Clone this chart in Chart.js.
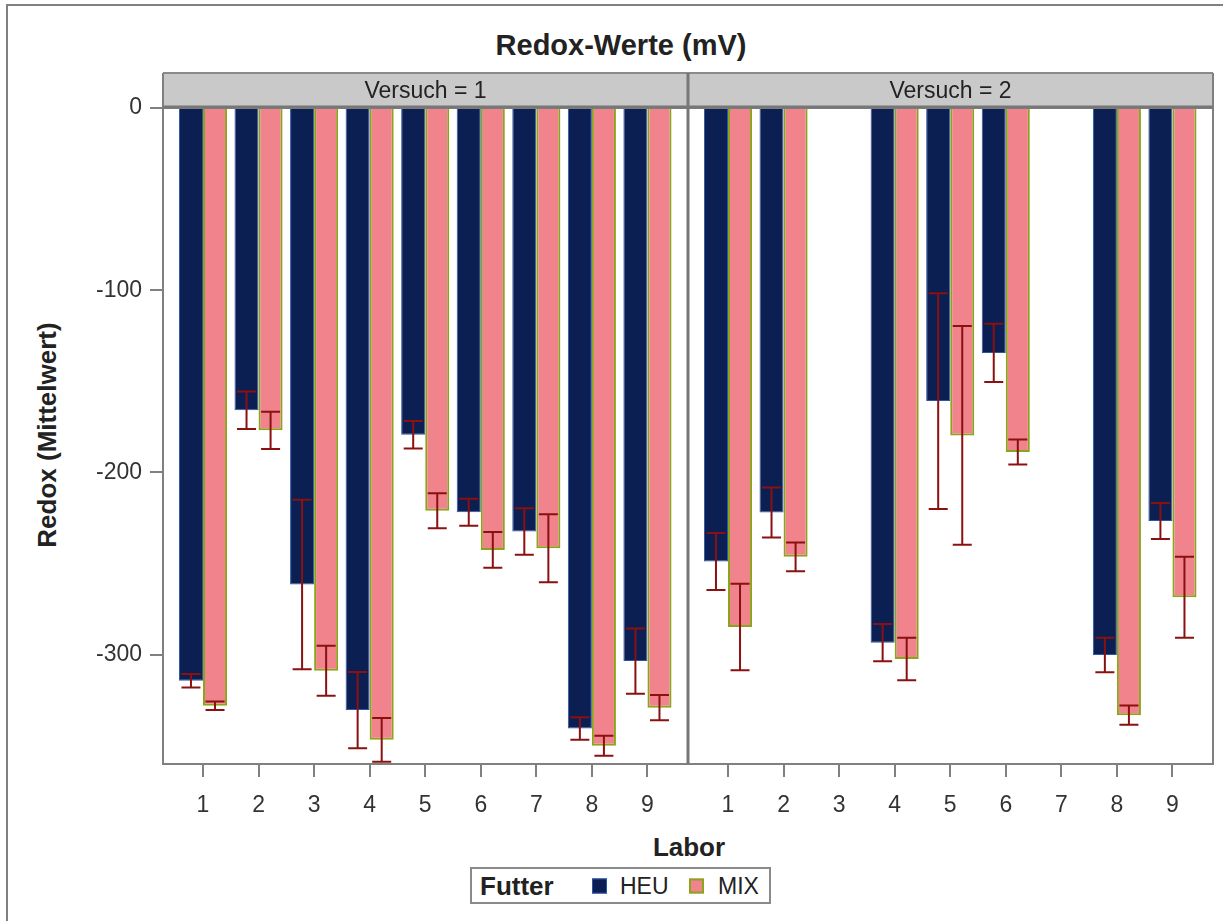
<!DOCTYPE html>
<html>
<head>
<meta charset="utf-8">
<title>Redox-Werte (mV)</title>
<script src="https://cdn.jsdelivr.net/npm/chart.js@4.4.1/dist/chart.umd.min.js"></script>
<style>
  body { margin: 0; background: #fff; }
  #wrap {
    position: relative; width: 1223px; height: 921px; overflow: hidden;
    background: #fff; font-family: "Liberation Sans", Arial, sans-serif; color: #222;
  }
  #wrap canvas { position: absolute; top: 0; }
  .edge { position: absolute; background: #808080; }
  .txt { position: absolute; white-space: nowrap; transform: translate(-50%, -50%); }
  .bold { font-weight: bold; }
  #legend {
    position: absolute; left: 470px; top: 867px; width: 297px; height: 33px;
    border: 2px solid #8a8a8a;
  }
  #legend span { position: absolute; top: 50%; transform: translateY(-50%); white-space: nowrap; }
  #legend .sw { width: 13px; height: 13px; }
</style>
</head>
<body>
<div id="wrap">
  <div class="edge" style="left:6px;top:4px;width:2px;height:930px"></div>
  <div class="edge" style="left:6px;top:4px;width:1230px;height:2px"></div>

  <div class="txt bold" style="left:621px;top:45px;font-size:29px">Redox-Werte (mV)</div>
  <div class="txt bold" style="left:47px;top:435px;font-size:26px;transform:translate(-50%,-50%) rotate(-90deg)">Redox (Mittelwert)</div>
  <div class="txt bold" style="left:689px;top:847px;font-size:26px">Labor</div>

  <canvas id="panel1" width="689" height="840" style="left:0"></canvas>
  <canvas id="panel2" width="535" height="840" style="left:688px"></canvas>

  <div id="legend">
    <span class="bold" style="left:8px;font-size:26px">Futter</span>
    <span class="sw" style="left:120px;background:#0b1f52;border:1px solid #2b55a5"></span>
    <span style="left:148px;font-size:23px">HEU</span>
    <span class="sw" style="left:217px;background:#f0838b;border:2px solid #8aa51a;width:11px;height:11px"></span>
    <span style="left:246px;font-size:23px">MIX</span>
  </div>
</div>

<script>
// Labor on the x axis, Versuch 1 and 2 as two panels
const labor = [1, 2, 3, 4, 5, 6, 7, 8, 9];
const yTicks = [0, -100, -200, -300];

// Versuch 1: mean redox (mV) and error half-width per Labor
const heu1    = [-314.3, -165.9, -261.5, -330.4, -179.3, -221.8, -232.4, -340.5, -303.5];
const heuErr1 = [3.7, 10.3, 46.5, 20.9, 7.6, 7.4, 12.8, 6.2, 17.9];
const mix1    = [-328.0, -176.9, -308.8, -346.7, -221.0, -242.5, -241.6, -350.0, -329.1];
const mixErr1 = [2.3, 10.2, 13.7, 12.0, 9.6, 9.8, 18.6, 5.5, 6.9];

// Versuch 2: Labor 3 and 7 have no measurements
const heu2    = [-248.9, -222.0, null, -293.4, -160.8, -134.4, null, -300.2, -226.6];
const heuErr2 = [15.6, 13.7, null, 10.2, 59.2, 16.0, null, 9.5, 9.9];
const mix2    = [-284.8, -246.3, null, -302.4, -179.7, -188.8, null, -333.2, -268.5];
const mixErr2 = [23.7, 7.9, null, 11.7, 60.0, 6.9, null, 5.3, 22.2];

const Y_MIN = -360, Y_MAX = 0;
const X_MIN = 0.28, X_MAX = 9.73;

const FONT = '"Liberation Sans", Arial, sans-serif';
const AXIS_GRAY = '#808080';
const ERR_COLOR = '#8b1111';
const HEU_FILL = '#0b1f52', HEU_EDGE = '#2b55a5';
const MIX_FILL = '#f0838b', MIX_EDGE = '#8aa51a';

function points(values) {
  return labor.map((l, i) => ({ x: l, y: values[i] }));
}

// error whiskers with caps, centred on each bar
const errorBars = {
  id: 'errorBars',
  afterDatasetsDraw(chart) {
    const { ctx } = chart;
    const y = chart.scales.y;
    ctx.save();
    ctx.strokeStyle = ERR_COLOR;
    chart.data.datasets.forEach((ds, di) => {
      const meta = chart.getDatasetMeta(di);
      meta.data.forEach((bar, i) => {
        const v = ds.data[i].y, e = ds.errors[i];
        if (v == null || e == null) return;
        const top = y.getPixelForValue(v + e);
        const bot = y.getPixelForValue(v - e);
        ctx.lineWidth = 2;
        ctx.beginPath();
        ctx.moveTo(bar.x, top); ctx.lineTo(bar.x, bot);
        ctx.moveTo(bar.x - 9.5, top); ctx.lineTo(bar.x + 9.5, top);
        ctx.moveTo(bar.x - 9.5, bot); ctx.lineTo(bar.x + 9.5, bot);
        ctx.stroke();
      });
    });
    ctx.restore();
  }
};

// gray header strip and panel frame
const panelStrip = {
  id: 'panelStrip',
  afterDraw(chart, args, opts) {
    const { ctx, chartArea: a } = chart;
    const h = 35;
    ctx.save();
    ctx.fillStyle = '#c9c9c9';
    ctx.fillRect(a.left, a.top - h, a.right - a.left, h);
    ctx.strokeStyle = '#8a8a8a';
    ctx.lineWidth = 2;
    ctx.beginPath();
    ctx.moveTo(a.left, a.top - h); ctx.lineTo(a.right, a.top - h);
    ctx.stroke();
    ctx.strokeStyle = AXIS_GRAY;
    ctx.strokeRect(a.left, a.top, a.right - a.left, a.bottom - a.top);
    ctx.beginPath();
    ctx.moveTo(a.left, a.top - h); ctx.lineTo(a.left, a.bottom);
    ctx.moveTo(a.right, a.top - h); ctx.lineTo(a.right, a.bottom);
    ctx.stroke();
    ctx.strokeStyle = '#777';
    ctx.lineWidth = 3;
    ctx.beginPath();
    ctx.moveTo(a.left, a.top - 1); ctx.lineTo(a.right, a.top - 1);
    ctx.moveTo(opts.sep, a.top - h); ctx.lineTo(opts.sep, a.bottom);
    ctx.stroke();
    ctx.fillStyle = '#222';
    ctx.font = '23px ' + FONT;
    ctx.textAlign = 'center';
    ctx.textBaseline = 'middle';
    ctx.fillText(opts.text, (a.left + a.right) / 2, a.top - h / 2 + 1);
    ctx.restore();
  }
};

function buildPanel(canvasId, heu, heuErr, mix, mixErr, title, withYAxis) {
  const tickFont = { family: FONT, size: 23 };
  return new Chart(document.getElementById(canvasId), {
    type: 'bar',
    data: {
      datasets: [
        { label: 'HEU', data: points(heu), errors: heuErr,
          backgroundColor: HEU_FILL, borderColor: HEU_EDGE, borderWidth: 1 },
        { label: 'MIX', data: points(mix), errors: mixErr,
          backgroundColor: MIX_FILL, borderColor: MIX_EDGE, borderWidth: 2 }
      ]
    },
    options: {
      responsive: false,
      animation: false,
      events: [],
      categoryPercentage: 0.866,
      barPercentage: 1,
      layout: { padding: { top: 108, right: withYAxis ? 1 : 10, bottom: 0, left: 0 } },
      plugins: {
        legend: { display: false },
        tooltip: { enabled: false },
        panelStrip: { text: title, sep: withYAxis ? 688 : 0 }
      },
      scales: {
        x: {
          type: 'linear',
          min: X_MIN,
          max: X_MAX,
          offset: false,
          afterBuildTicks: (axis) => { axis.ticks = labor.map(v => ({ value: v })); },
          afterFit: (axis) => { axis.height = 76; },
          grid: { offset: false, drawOnChartArea: false, tickLength: 13, color: AXIS_GRAY, lineWidth: 2 },
          border: { display: false },
          ticks: { color: '#333', font: tickFont, padding: 15, maxRotation: 0 }
        },
        y: {
          display: withYAxis,
          min: Y_MIN,
          max: Y_MAX,
          afterBuildTicks: (axis) => { axis.ticks = yTicks.map(v => ({ value: v })); },
          afterFit: (axis) => { axis.width = withYAxis ? 163 : 0; },
          grid: { drawOnChartArea: false, tickLength: 13, color: AXIS_GRAY, lineWidth: 2 },
          border: { display: false },
          ticks: { color: '#333', font: tickFont, padding: 8 }
        }
      }
    },
    plugins: [errorBars, panelStrip]
  });
}

buildPanel('panel1', heu1, heuErr1, mix1, mixErr1, 'Versuch = 1', true);
buildPanel('panel2', heu2, heuErr2, mix2, mixErr2, 'Versuch = 2', false);
</script>
</body>
</html>
